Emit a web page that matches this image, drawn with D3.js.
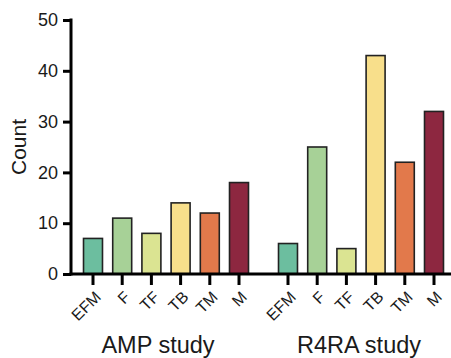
<!DOCTYPE html>
<html>
<head>
<meta charset="utf-8">
<script src="https://cdn.jsdelivr.net/npm/d3@7"></script>
<style>
  body { margin: 0; background: #fff; }
  svg { display: block; font-family: "Liberation Sans", Arial, sans-serif; }
</style>
</head>
<body>
<svg width="451" height="358"></svg>
<script>
// data
var studies = ["AMP study", "R4RA study"];
var categories = ["EFM", "F", "TF", "TB", "TM", "M"];
var ampCounts = [7, 11, 8, 14, 12, 18];
var r4raCounts = [6, 25, 5, 43, 22, 32];
var barColors = ["#6cbe9f", "#a7d197", "#dbe492", "#f8df8b", "#e2794b", "#8d2740"];
var yTicks = [0, 10, 20, 30, 40, 50];

var svg = d3.select("svg");

var margin = {left: 71, top: 20, bottom: 274};

var y = d3.scaleLinear().domain([0, 50]).range([margin.bottom, margin.top]);

var xGroup = d3.scaleBand()
    .domain(studies)
    .range([78.4, 448.6])
    .paddingInner(0.1015);

var xCat = d3.scaleBand()
    .domain(categories)
    .range([0, xGroup.bandwidth()])
    .paddingInner(0.35)
    .paddingOuter(0.175);

var color = d3.scaleOrdinal().domain(categories).range(barColors);

var rows = [];
[ampCounts, r4raCounts].forEach(function(vals, gi) {
  vals.forEach(function(v, i) {
    rows.push({study: studies[gi], cat: categories[i], value: v});
  });
});

// bars
svg.append("g")
  .selectAll("rect")
  .data(rows)
  .join("rect")
    .attr("x", d => xGroup(d.study) + xCat(d.cat))
    .attr("y", d => y(d.value))
    .attr("width", xCat.bandwidth())
    .attr("height", d => y(0) - y(d.value))
    .attr("fill", d => color(d.cat))
    .attr("stroke", "#222")
    .attr("stroke-width", 1.6);

// y axis
var yAxis = svg.append("g")
    .attr("transform", "translate(" + margin.left + ",0)")
    .call(d3.axisLeft(y).tickValues(yTicks).tickSize(8).tickPadding(5));
yAxis.select(".domain").attr("stroke", "#000").attr("stroke-width", 3)
    .attr("d", "M0," + (y(50) - 1.5) + "V" + (y(0) + 1.5));
yAxis.selectAll(".tick line").attr("stroke", "#000").attr("stroke-width", 3);
yAxis.selectAll(".tick text").style("font-size", "18px").attr("fill", "#1a1a1a")
    .style("font-family", "Liberation Sans, Arial, sans-serif");

// x axis baseline
svg.append("line")
    .attr("x1", margin.left - 1.5).attr("x2", 451)
    .attr("y1", y(0)).attr("y2", y(0))
    .attr("stroke", "#000").attr("stroke-width", 3);

// tick marks per group
studies.forEach(function(s) {
  var g = svg.append("g")
      .attr("transform", "translate(" + xGroup(s) + "," + y(0) + ")")
      .call(d3.axisBottom(xCat).tickSize(11).tickFormat(""));
  g.select(".domain").remove();
  g.selectAll(".tick line").attr("stroke", "#000").attr("stroke-width", 3);
});

// rotated category labels
var labels = svg.append("g")
    .attr("font-family", "Liberation Sans, Arial, sans-serif")
    .attr("font-size", 16)
    .attr("fill", "#1a1a1a")
  .selectAll("g")
  .data(rows)
  .join("g")
    .attr("transform", d => "translate(" + (xGroup(d.study) + xCat(d.cat) + xCat.bandwidth() / 2 + 5) + "," + (y(0) + 20) + ")");

labels.append("text")
    .attr("transform", "rotate(-45)")
    .attr("text-anchor", "end")
    .attr("dy", "0.35em")
    .text(d => d.cat);

// group titles
svg.append("g")
  .selectAll("text")
  .data(studies)
  .join("text")
    .attr("x", s => xGroup(s) + xGroup.bandwidth() / 2 + (s === "AMP study" ? -8 : -2))
    .attr("y", 353)
    .attr("text-anchor", "middle")
    .attr("font-size", 23.5)
    .attr("fill", "#1a1a1a")
    .text(s => s);

// y label
svg.append("text")
    .attr("transform", "translate(26,147) rotate(-90)")
    .attr("text-anchor", "middle")
    .attr("font-size", 21)
    .attr("fill", "#1a1a1a")
    .text("Count");
</script>
</body>
</html>
